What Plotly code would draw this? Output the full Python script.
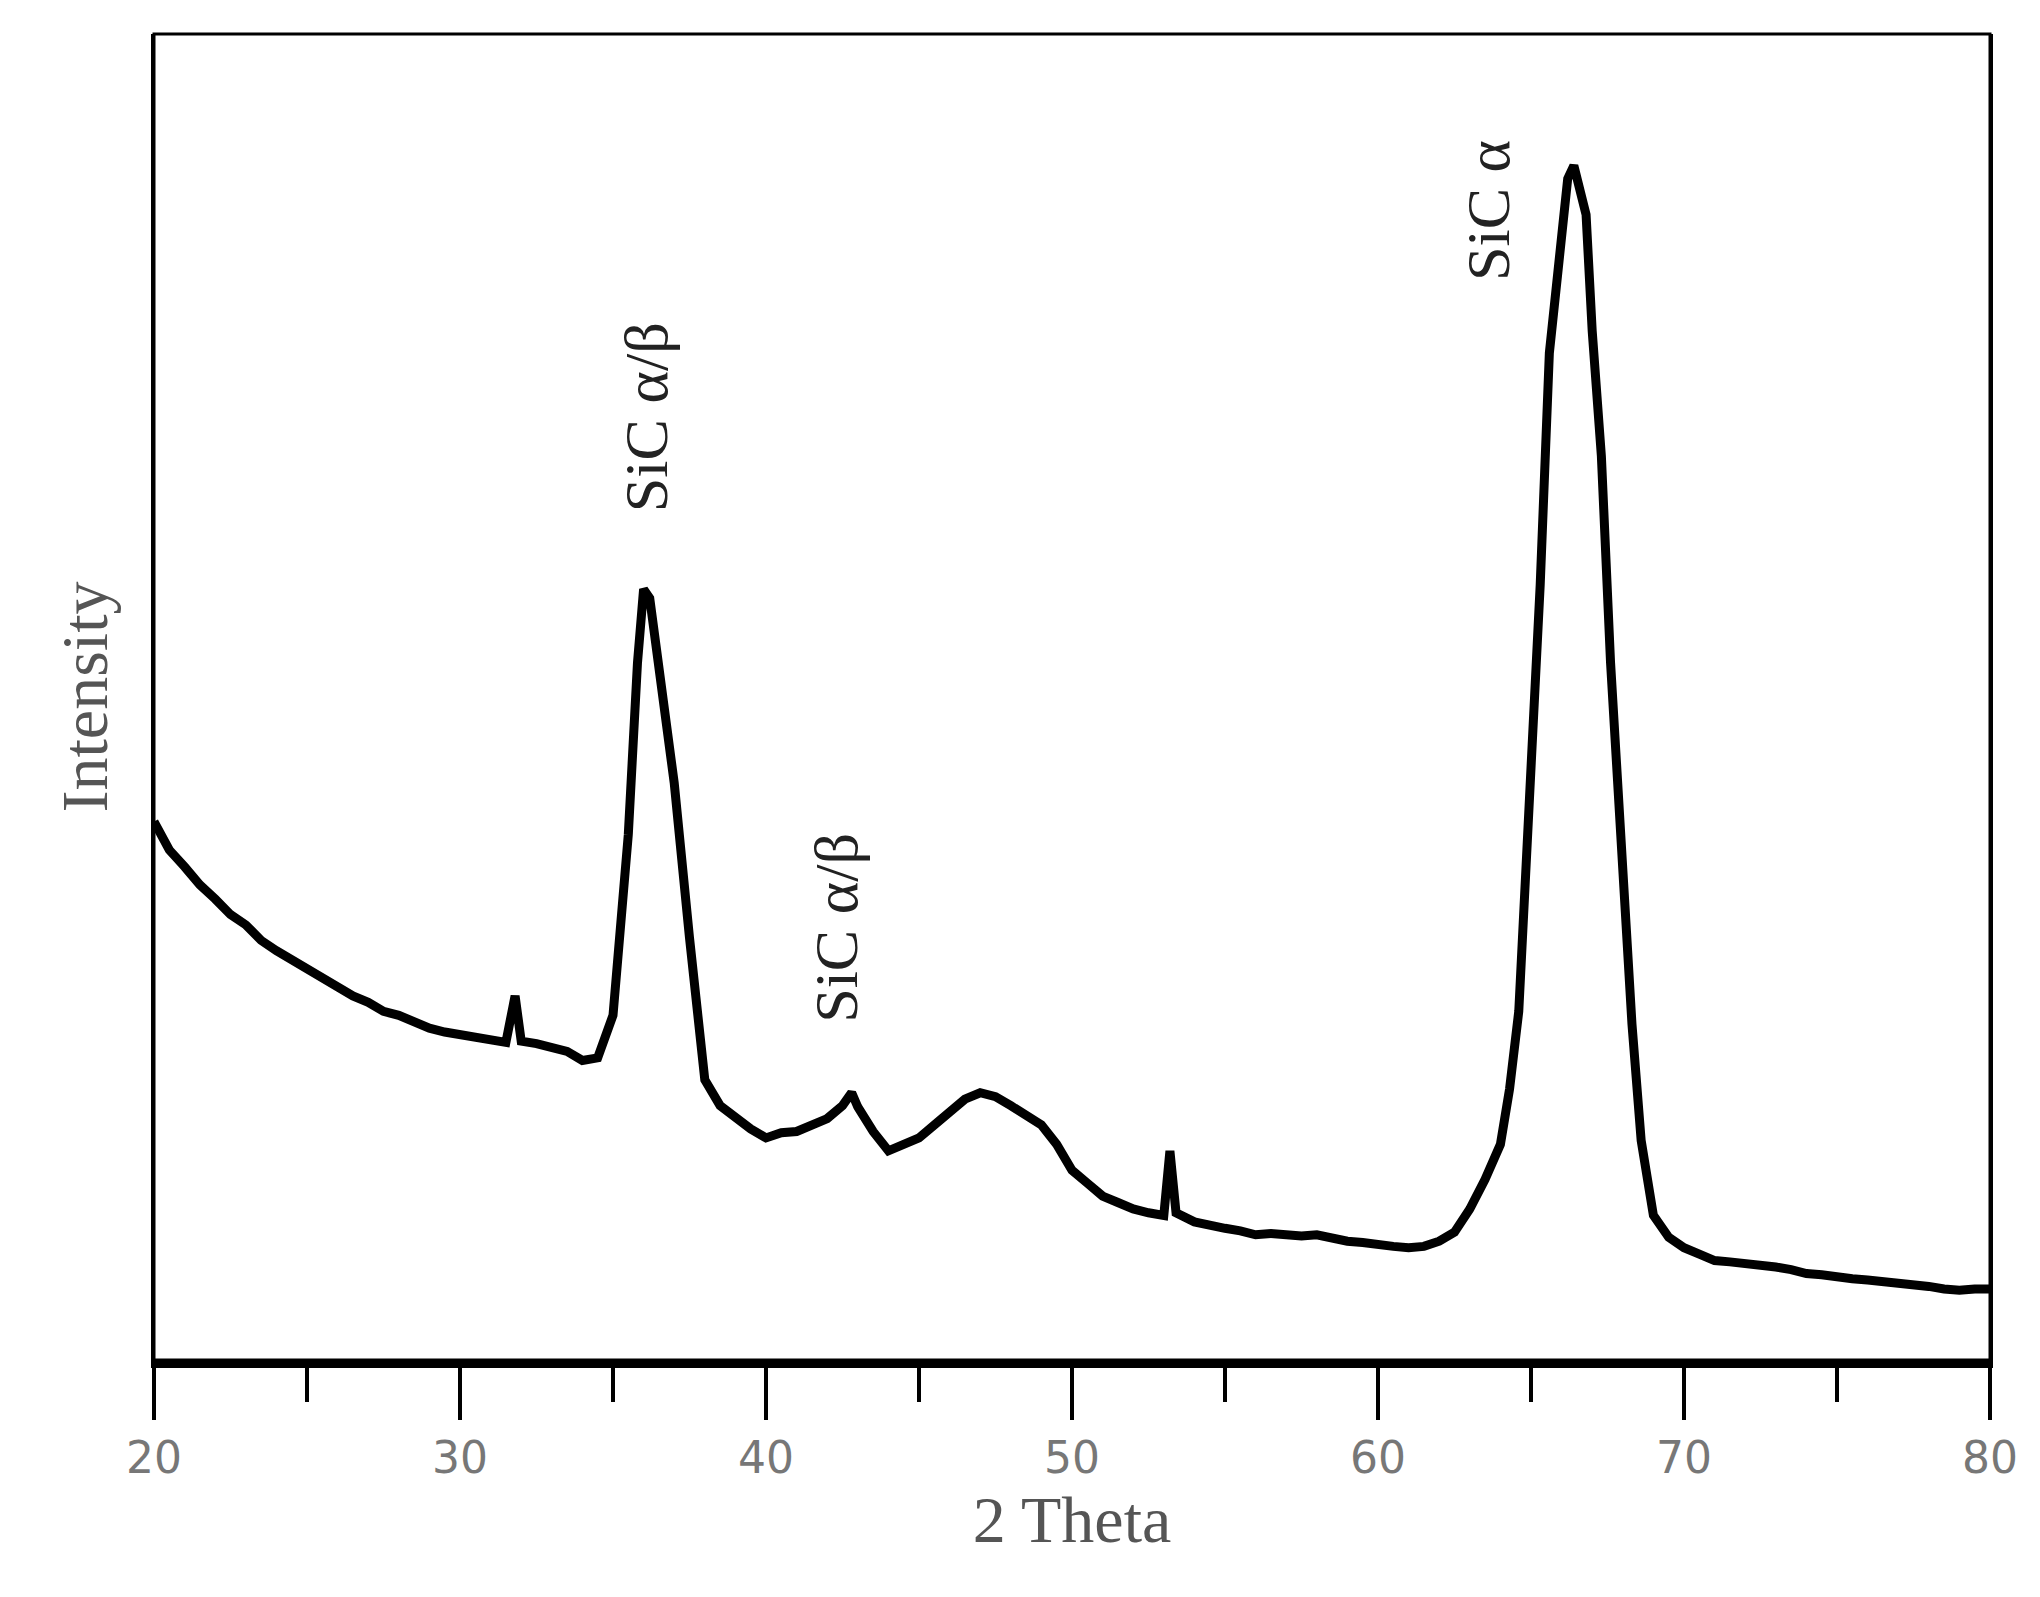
import plotly.graph_objects as go

# 2-theta positions and intensity (arbitrary units)
two_theta = [20, 20.5, 21, 21.5, 22, 22.5, 23, 23.5, 24, 24.5, 25, 25.5, 26, 26.5, 27, 27.5,
             28, 28.5, 29, 29.5, 30, 30.5, 31, 31.5, 31.8, 32, 32.5, 33, 33.5, 34, 34.5,
             35, 35.5, 35.8, 36, 36.2, 36.5, 37, 37.5, 38, 38.5, 39, 39.5, 40, 40.5, 41,
             41.5, 42, 42.5, 42.8, 43, 43.5, 44, 44.5, 45, 45.5, 46, 46.5, 47, 47.5, 48,
             48.5, 49, 49.5, 50, 50.5, 51, 51.5, 52, 52.5, 53, 53.2, 53.4, 54, 54.5, 55,
             55.5, 56, 56.5, 57, 57.5, 58, 58.5, 59, 59.5, 60, 60.5, 61, 61.5, 62, 62.5,
             63, 63.5, 64, 64.3, 64.6, 65, 65.3, 65.6, 66, 66.2, 66.4, 66.6, 66.8, 67,
             67.3, 67.6, 68, 68.3, 68.6, 69, 69.5, 70, 70.5, 71, 71.5, 72, 72.5, 73, 73.5,
             74, 74.5, 75, 75.5, 76, 76.5, 77, 77.5, 78, 78.5, 79, 79.5, 80]
intensity = [417, 395, 382, 368, 357, 345, 337, 325, 317, 310, 302, 296, 287, 282, 277, 270,
             267, 262, 257, 254, 252, 249, 247, 246, 282, 247, 245, 242, 239, 232, 234,
             267, 407, 540, 597, 590, 537, 447, 327, 217, 197, 187, 179, 172, 176, 177,
             182, 187, 197, 207, 196, 177, 162, 167, 172, 182, 192, 202, 207, 204, 197,
             190, 182, 167, 147, 137, 127, 122, 117, 114, 112, 162, 114, 107, 104, 102,
             100, 97, 98, 97, 96, 97, 94, 92, 91, 89, 88, 87, 88, 92, 99,
             117, 140, 167, 210, 270, 447, 600, 780, 880, 915, 925, 905, 887, 797,
             700, 540, 367, 260, 170, 112, 95, 87, 82, 77, 76, 75, 73, 72, 70,
             67, 66, 64, 63, 62, 61, 59, 58, 57, 55, 54, 55, 55]

# peak labels
label_x = [36.1, 42.3, 63.6]
label_y = [730, 335, 890]
label_text = ["SiC α/β", "SiC α/β", "SiC α"]

serif = "Liberation Serif, Times New Roman, serif"

fig = go.Figure()
fig.add_trace(go.Scatter(x=two_theta, y=intensity, mode="lines",
                         line=dict(color="black", width=9), showlegend=False))

for x, y, t in zip(label_x, label_y, label_text):
    fig.add_annotation(x=x, y=y, text=t, textangle=-90, showarrow=False,
                       font=dict(family=serif, size=62, color="#222"))

fig.update_xaxes(range=[20, 80], tickvals=[20, 30, 40, 50, 60, 70, 80],
                 ticks="outside", ticklen=52, tickwidth=4, tickcolor="black",
                 minor=dict(tickvals=[25, 35, 45, 55, 65, 75], ticks="outside",
                            ticklen=34, tickwidth=4, tickcolor="black"),
                 showline=True, linecolor="black", linewidth=8, mirror=False,
                 showgrid=False, zeroline=False,
                 tickfont=dict(family="DejaVu Sans", size=44, color="#777"),
                 title=dict(text="2 Theta", font=dict(family=serif, size=66, color="#555"),
                            standoff=14))
fig.update_yaxes(range=[0, 1027], showticklabels=False, ticks="",
                 showline=True, linecolor="black", linewidth=3, mirror=True,
                 showgrid=False, zeroline=False,
                 title=dict(text="Intensity", font=dict(family=serif, size=66, color="#555"),
                            standoff=22))
# top and right frame
fig.add_shape(type="rect", xref="paper", yref="paper", x0=0, y0=0, x1=1, y1=1,
              line=dict(color="black", width=3))

fig.update_layout(width=2040, height=1597, plot_bgcolor="white", paper_bgcolor="white",
                  margin=dict(l=146, r=58, t=26, b=245))

fig.write_html("out.html")
